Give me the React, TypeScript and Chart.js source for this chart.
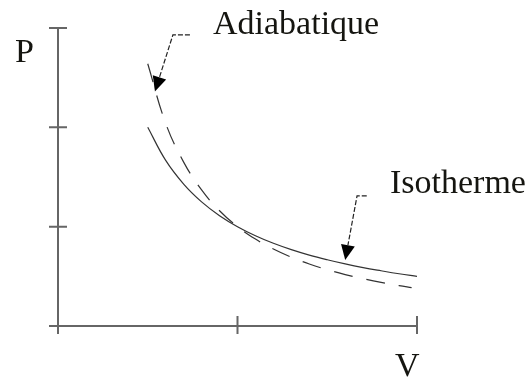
import React, { useEffect, useRef } from "react";
import { Chart, registerables } from "chart.js";

Chart.register(...registerables);

// Volume samples (V) and pressures (P) for the two transformations
const isothermV = [0.5, 0.6, 0.7, 0.8, 0.9, 1.0, 1.1, 1.2, 1.3, 1.4, 1.5, 1.6, 1.7, 1.8, 1.9, 2.0];
const isothermP = [2.0, 1.667, 1.429, 1.25, 1.111, 1.0, 0.909, 0.833, 0.769, 0.714, 0.667, 0.625, 0.588, 0.556, 0.526, 0.5];

const adiabaticV = [0.5, 0.6, 0.7, 0.8, 0.9, 1.0, 1.1, 1.2, 1.3, 1.4, 1.5, 1.6, 1.7, 1.8, 1.9, 1.97];
const adiabaticP = [2.64, 2.04, 1.65, 1.37, 1.16, 1.0, 0.875, 0.775, 0.693, 0.624, 0.567, 0.518, 0.476, 0.439, 0.407, 0.387];

// Axis tick positions
const vTicks = [1, 2];
const pTicks = [1, 2, 3];

// Callout leaders: [horizontal end, elbow, arrow tip] in (V, P)
const adiabaticCallout = [[0.735, 2.93], [0.64, 2.93], [0.54, 2.36]];
const isothermCallout = [[1.72, 1.31], [1.666, 1.31], [1.6, 0.665]];

const FONT = '34px "Liberation Serif", "Times New Roman", serif';
const INK = "#151510";
const AXIS = "#666666";
const CURVE = "#333333";

const diagramPlugin = {
  id: "pvDiagram",
  beforeDatasetsDraw(chart: any) {
    const { ctx, scales } = chart;
    const xs = scales.x;
    const ys = scales.y;
    const x0 = xs.getPixelForValue(0);
    const y0 = ys.getPixelForValue(0);
    const xEnd = xs.getPixelForValue(2);
    const yTop = ys.getPixelForValue(3);
    ctx.save();
    ctx.strokeStyle = AXIS;
    ctx.lineWidth = 2;
    ctx.beginPath();
    // vertical P axis
    ctx.moveTo(x0, yTop);
    ctx.lineTo(x0, y0 + 8);
    // horizontal V axis
    ctx.moveTo(x0 - 9, y0);
    ctx.lineTo(xEnd, y0);
    pTicks.forEach((t) => {
      const y = ys.getPixelForValue(t);
      ctx.moveTo(x0 - 9, y);
      ctx.lineTo(x0 + 9, y);
    });
    vTicks.forEach((t) => {
      const x = xs.getPixelForValue(t);
      ctx.moveTo(x, y0 - 10);
      ctx.lineTo(x, y0 + 8);
    });
    ctx.stroke();
    ctx.restore();
  },
  afterDatasetsDraw(chart: any) {
    const { ctx, scales } = chart;
    const xs = scales.x;
    const ys = scales.y;

    const drawCallout = (pts: number[][]) => {
      const p = pts.map(([v, pr]) => [xs.getPixelForValue(v), ys.getPixelForValue(pr)]);
      const [a, b, tip] = p;
      const dx = tip[0] - b[0];
      const dy = tip[1] - b[1];
      const len = Math.hypot(dx, dy);
      const ux = dx / len;
      const uy = dy / len;
      const headLen = 15;
      const headHalf = 7;
      const base = [tip[0] - ux * headLen, tip[1] - uy * headLen];
      ctx.save();
      ctx.strokeStyle = "#222";
      ctx.lineWidth = 1.2;
      ctx.setLineDash([5, 2]);
      ctx.beginPath();
      ctx.moveTo(a[0], a[1]);
      ctx.lineTo(b[0], b[1]);
      ctx.lineTo(base[0], base[1]);
      ctx.stroke();
      ctx.setLineDash([]);
      ctx.fillStyle = "#000";
      ctx.beginPath();
      ctx.moveTo(tip[0], tip[1]);
      ctx.lineTo(base[0] - uy * headHalf, base[1] + ux * headHalf);
      ctx.lineTo(base[0] + uy * headHalf, base[1] - ux * headHalf);
      ctx.closePath();
      ctx.fill();
      ctx.restore();
    };
    drawCallout(adiabaticCallout);
    drawCallout(isothermCallout);

    ctx.save();
    ctx.fillStyle = INK;
    ctx.font = FONT;
    ctx.textBaseline = "alphabetic";
    ctx.textAlign = "left";
    ctx.fillText("P", 15, 62);
    ctx.fillText("V", 395, 376);
    ctx.fillText("Adiabatique", 213, 34);
    ctx.fillText("Isotherme", 390, 193);
    ctx.restore();
  },
};

export default function App() {
  const canvasRef = useRef<HTMLCanvasElement | null>(null);

  useEffect(() => {
    const prevMargin = document.body.style.margin;
    document.body.style.margin = "0";
    const canvas = canvasRef.current;
    if (!canvas) return;
    const chart = new Chart(canvas, {
      type: "line",
      data: {
        datasets: [
          {
            label: "Isotherme",
            data: isothermV.map((v, i) => ({ x: v, y: isothermP[i] })),
            borderColor: CURVE,
            borderWidth: 1.2,
            pointRadius: 0,
            tension: 0.4,
            fill: false,
          },
          {
            label: "Adiabatique",
            data: adiabaticV.map((v, i) => ({ x: v, y: adiabaticP[i] })),
            borderColor: CURVE,
            borderWidth: 1.2,
            borderDash: [19, 14],
            pointRadius: 0,
            tension: 0.4,
            fill: false,
          },
        ],
      },
      options: {
        responsive: false,
        animation: false,
        devicePixelRatio: 1,
        layout: { padding: { left: 58, right: 114, top: 28, bottom: 54 } },
        scales: {
          x: { type: "linear", min: 0, max: 2, display: false },
          y: { type: "linear", min: 0, max: 3, display: false },
        },
        plugins: {
          legend: { display: false },
          tooltip: { enabled: false },
        },
      },
      plugins: [diagramPlugin],
    });
    return () => {
      chart.destroy();
      document.body.style.margin = prevMargin;
    };
  }, []);

  return (
    <div style={{ position: "fixed", left: 0, top: 0, width: 531, height: 380, background: "#fff" }}>
      <canvas ref={canvasRef} width={531} height={380} style={{ width: 531, height: 380 }} />
    </div>
  );
}
